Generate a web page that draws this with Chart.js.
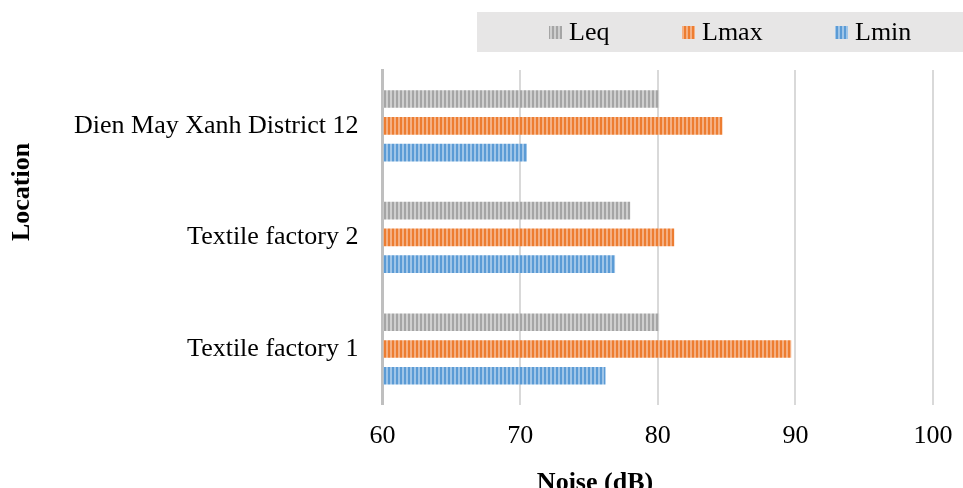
<!DOCTYPE html>
<html>
<head>
<meta charset="utf-8">
<script src="https://cdn.jsdelivr.net/npm/chart.js@4/dist/chart.umd.min.js"></script>
<style>
  html, body { margin: 0; padding: 0; background: #ffffff; }
  #wrap { width: 963px; height: 488px; position: relative; }
</style>
</head>
<body>
<div id="wrap"><canvas id="c" width="963" height="488"></canvas></div>
<script>
// Noise levels measured at each location (dB)
const locations = ['Dien May Xanh District 12', 'Textile factory 2', 'Textile factory 1'];
const seriesNames = ['Leq', 'Lmax', 'Lmin'];
const leq  = [80.1, 78.0, 80.1];
const lmax = [84.7, 81.2, 89.7];
const lmin = [70.5, 76.9, 76.2];
const xTicks = [60, 70, 80, 90, 100];
const xTitle = 'Noise (dB)';
const yTitle = 'Location';

const FONT = '"Liberation Serif", "Times New Roman", serif';

// Vertical stripe fill used for the bars and legend markers
function stripes(base, light) {
  const c = document.createElement('canvas');
  c.width = 4; c.height = 4;
  const g = c.getContext('2d');
  g.fillStyle = base;  g.fillRect(0, 0, 4, 4);
  g.fillStyle = light; g.fillRect(2, 0, 2, 4);
  return g.createPattern(c, 'repeat');
}
const fills = [
  stripes('#a5a5a5', '#cfcfcf'),
  stripes('#ed7d31', '#f5b083'),
  stripes('#5b9bd5', '#9fc5e8')
];

// Legend in a grey band across the top right, plus the two axis titles
const decorations = {
  id: 'decorations',
  afterDraw(chart) {
    const ctx = chart.ctx;
    ctx.save();
    ctx.fillStyle = '#e7e6e6';
    ctx.fillRect(477, 12, 486, 40);
    ctx.font = '26px ' + FONT;
    ctx.textBaseline = 'middle';
    ctx.textAlign = 'left';
    const starts = [549, 682, 835];
    chart.data.datasets.forEach((ds, i) => {
      const x = starts[i];
      ctx.fillStyle = ds.backgroundColor;
      ctx.fillRect(x, 26, 13, 13);
      ctx.fillStyle = '#000000';
      ctx.fillText(ds.label, x + 20, 33);
    });

    ctx.font = 'bold 26px ' + FONT;
    ctx.fillStyle = '#000000';
    ctx.textAlign = 'center';
    ctx.fillText(xTitle, 595, 483);
    ctx.translate(22, 192);
    ctx.rotate(-Math.PI / 2);
    ctx.fillText(yTitle, 0, 0);
    ctx.restore();
  }
};

new Chart(document.getElementById('c'), {
  type: 'bar',
  data: {
    labels: locations,
    datasets: [
      { label: seriesNames[0], data: leq,  backgroundColor: fills[0] },
      { label: seriesNames[1], data: lmax, backgroundColor: fills[1] },
      { label: seriesNames[2], data: lmin, backgroundColor: fills[2] }
    ]
  },
  options: {
    indexAxis: 'y',
    responsive: false,
    animation: false,
    devicePixelRatio: 1,
    base: 60,
    datasets: { bar: { categoryPercentage: 0.72, barPercentage: 0.66 } },
    layout: { padding: { top: 70, right: 30, bottom: 20, left: 50 } },
    plugins: { legend: { display: false }, tooltip: { enabled: false } },
    scales: {
      x: {
        type: 'linear',
        min: 60, max: 100,
        afterBuildTicks: (scale) => { scale.ticks = xTicks.map(v => ({ value: v })); },
        afterFit: (scale) => { scale.paddingRight = 0; },
        grid: {
          color: (c) => (c.tick && c.tick.value === 60) ? 'rgba(0,0,0,0)' : '#d9d9d9',
          lineWidth: 2,
          drawTicks: false
        },
        border: { display: false },
        ticks: { color: '#000000', font: { family: FONT, size: 26 }, padding: 16 }
      },
      y: {
        grid: { display: false, drawTicks: false },
        border: { display: true, color: '#bfbfbf', width: 3 },
        ticks: { color: '#000000', font: { family: FONT, size: 26 }, padding: 24 }
      }
    }
  },
  plugins: [decorations]
});
</script>
</body>
</html>
